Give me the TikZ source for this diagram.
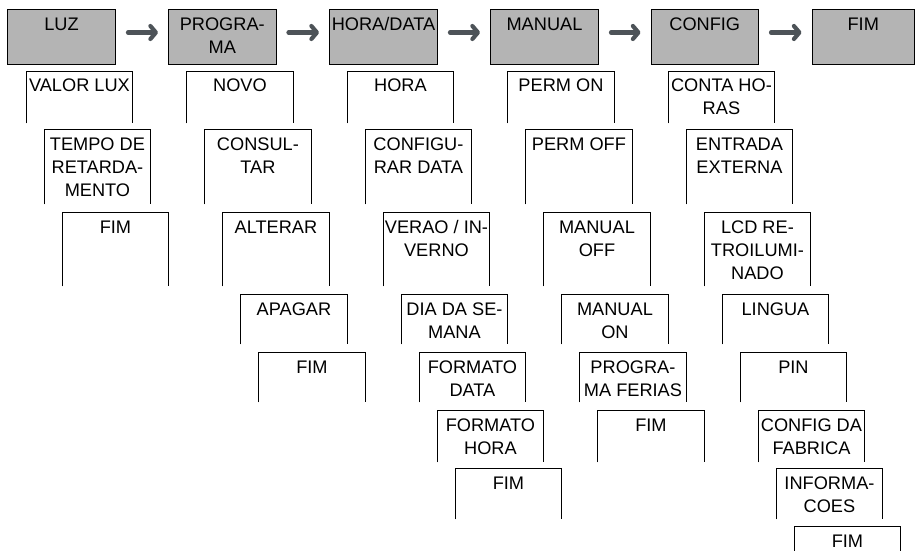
\documentclass[tikz,border=0pt]{standalone}
\usepackage{fontspec}
\setmainfont{Liberation Sans}
\usetikzlibrary{arrows.meta}
\definecolor{topgray}{RGB}{180,180,180}
\definecolor{arrgray}{RGB}{77,83,88}
\newcommand\menutop[4]{%
  \node[topbox, minimum width={#3*1pt}] (#1) at (#2,9.5) {};
  \node[lbl] (#1-t) at ([yshift=-21pt]#1.north) {\parbox[t]{114pt}{\centering #4}};
}
\newcommand\menusub[6]{%
  \node[subbox, minimum height={(#5-#4)*1pt}] (#1) at ({#2+18*(#3-1)},#4) {};
  \draw[boxline] (#1.south west) |- (#1.north east) -- (#1.south east);
  \node[lbl] (#1-t) at ([yshift=-21pt]#1.north) {\parbox[t]{114pt}{\centering #6}};
}
\tikzset{
  every node/.style={font=\fontsize{18.2}{23}\selectfont},
  topbox/.style={draw=black, line width=1pt, fill=topgray, anchor=north west, inner sep=0pt, minimum height=54.5pt},
  subbox/.style={anchor=north west, inner sep=0pt, minimum width=106.5pt},
  boxline/.style={draw=black, line width=1pt},
  lbl/.style={anchor=base, inner sep=0pt},
  arr/.style={draw=arrgray, line width=4.2pt, line cap=round, -{Straight Barb[round,length=5.5pt,width=13pt]}}
}
\begin{document}
\begin{tikzpicture}[x=1pt,y=-1pt]
\useasboundingbox (0,0) rectangle (915,551);
% top row
\menutop{luz}{7}{108}{LUZ}
\menutop{prog}{168}{107.5}{PROGRA-\\MA}
\menutop{hora}{329}{108}{HORA/DATA}
\menutop{man}{490}{108}{MANUAL}
\menutop{cfg}{650.5}{107.5}{CONFIG}
\menutop{fim}{811.5}{102.5}{FIM}
\foreach \a/\b in {luz/prog,prog/hora,hora/man,man/cfg,cfg/fim}
  \draw[arr] ([xshift=12pt,yshift=4.75pt]\a.east) -- ([xshift=-10pt,yshift=4.75pt]\b.west);
% LUZ column
\menusub{l1}{26}{1}{71}{123}{VALOR LUX}
\menusub{l2}{26}{2}{129.5}{204}{TEMPO DE\\RETARDA-\\MENTO}
\menusub{l3}{26}{3}{212}{286}{FIM}
% PROGRAMA column
\menusub{p1}{186.5}{1}{71}{123}{NOVO}
\menusub{p2}{186.5}{2}{129.5}{204}{CONSUL-\\TAR}
\menusub{p3}{186.5}{3}{212}{286}{ALTERAR}
\menusub{p4}{186.5}{4}{294}{344}{APAGAR}
\menusub{p5}{186.5}{5}{352}{402}{FIM}
% HORA/DATA column
\menusub{h1}{347}{1}{71}{123}{HORA}
\menusub{h2}{347}{2}{129.5}{204}{CONFIGU-\\RAR DATA}
\menusub{h3}{347}{3}{212}{286}{VERAO / IN-\\VERNO}
\menusub{h4}{347}{4}{294}{344}{DIA DA SE-\\MANA}
\menusub{h5}{347}{5}{352}{402}{FORMATO\\DATA}
\menusub{h6}{347}{6}{410}{462}{FORMATO\\HORA}
\menusub{h7}{347}{7}{468}{519}{FIM}
% MANUAL column
\menusub{m1}{507.5}{1}{71}{123}{PERM ON}
\menusub{m2}{507.5}{2}{129.5}{204}{PERM OFF}
\menusub{m3}{507.5}{3}{212}{286}{MANUAL\\OFF}
\menusub{m4}{507.5}{4}{294}{344}{MANUAL\\ON}
\menusub{m5}{507.5}{5}{352}{402}{PROGRA-\\MA FERIAS}
\menusub{m6}{507.5}{6}{410}{462}{FIM}
% CONFIG column
\menusub{c1}{668}{1}{71}{123}{CONTA HO-\\RAS}
\menusub{c2}{668}{2}{129.5}{204}{ENTRADA\\EXTERNA}
\menusub{c3}{668}{3}{212}{286}{LCD RE-\\TROILUMI-\\NADO}
\menusub{c4}{668}{4}{294}{344}{LINGUA}
\menusub{c5}{668}{5}{352}{402}{PIN}
\menusub{c6}{668}{6}{410}{462}{CONFIG DA\\FABRICA}
\menusub{c7}{668}{7}{468}{519}{INFORMA-\\COES}
\menusub{c8}{668}{8}{526.5}{552}{FIM}
\end{tikzpicture}
\end{document}
